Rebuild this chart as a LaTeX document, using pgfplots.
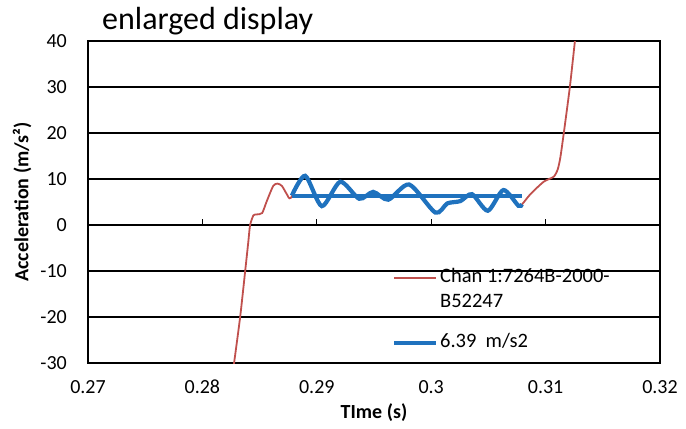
\documentclass[border=0pt]{standalone}
\usepackage{pgfplots}
\pgfplotsset{compat=1.18}
\usepackage{fontspec}
\setmainfont{Carlito}
\definecolor{chanred}{RGB}{192,80,77}
\definecolor{avgblue}{RGB}{31,114,190}
\begin{document}
\begin{tikzpicture}
\path[use as bounding box] (-88bp,-66bp) rectangle (598bp,363bp);
\begin{axis}[
  name=ax,
  at={(0,0)}, anchor=south west,
  scale only axis, width=572bp, height=322bp,
  xmin=0.27, xmax=0.32, ymin=-30, ymax=40,
  xtick={0.27,0.28,0.29,0.30,0.31,0.32},
  xticklabels={0.27,0.28,0.29,0.3,0.31,0.32},
  ytick={-30,-20,-10,0,10,20,30,40},
  yticklabels={-30,-20,-10,0,10,20,30,40},
  major tick length=0pt,
  ymajorgrids, grid style={black, line width=1.4bp},
  axis line style={black, line width=2bp},
  every tick label/.append style={font=\fontsize{20bp}{24bp}\selectfont},
  xticklabel style={anchor=north, inner sep=0pt, yshift=-17bp},
  yticklabel style={anchor=east, inner sep=0pt, xshift=-21bp},
  xlabel={\bfseries TIme (s)},
  ylabel={\bfseries Acceleration (m/s²)},
  label style={font=\fontsize{20bp}{24bp}\selectfont},
  xlabel style={at={(axis description cs:0.5,-0.1553)}, anchor=center},
  ylabel style={at={(axis description cs:-0.1154,0.5)}, anchor=center},
  clip=true,
  legend image code/.code={\draw[#1] (0bp,0bp) -- (42bp,0bp);},
  legend cell align=left,
  legend style={at={(axis cs:0.29655,-8.7)}, anchor=north west, draw=none, fill=none,
    inner sep=0pt, font=\fontsize{20.5bp}{25bp}\selectfont,
    nodes={inner sep=0pt}, row sep=0pt, column sep=2bp},
]
\draw[black, line width=2.5bp] (axis cs:0.27,0) -- (axis cs:0.32,0);
\pgfplotsinvokeforeach{0.28,0.29,0.30,0.31}{
  \draw[black, line width=1.2bp] (axis cs:#1,0) -- (axis cs:#1,1.3);
}
\addplot[chanred, line width=1.8bp, smooth, tension=0.4] coordinates {
(0.28266,-32) (0.28277,-30) (0.28330,-20) (0.28374,-10) (0.28402,-3.5) (0.28417,0)
(0.28446,2.1) (0.28475,2.3) (0.28522,2.6) (0.28563,5.2) (0.28619,8.5) (0.28656,9.0)
(0.28695,8.5) (0.28738,6.7) (0.28773,5.9)
(0.28899,10.5) (0.29044,4.2) (0.29205,9.3) (0.29371,5.8) (0.29493,7.1) (0.29625,5.6)
(0.29808,8.7) (0.30036,2.8) (0.30141,4.7) (0.30255,5.2) (0.30357,6.6) (0.30495,3.2)
(0.30631,7.5) (0.30762,4.3)
(0.30794,4.5) (0.30867,6.7) (0.30983,9.4) (0.31071,10.5) (0.31106,12.1)
(0.31129,14.7) (0.31158,19.8) (0.31211,29.8) (0.31255,39.7) (0.31265,42)
};
\addlegendentry[text height=17bp, text depth=8bp]{Chan 1:7264B-2000-}
\addlegendimage{empty legend}
\addlegendentry[text height=17bp, text depth=23bp]{B52247}
\addplot[avgblue, line width=4.2bp] coordinates {(0.28782,6.39) (0.30794,6.39)};
\addlegendentry[text height=17bp, text depth=8bp]{6.39\ \ m/s2}
\addplot[avgblue, line width=4.2bp, smooth, tension=0.45, forget plot] coordinates {
(0.28782,6.39) (0.28899,10.7) (0.29044,4.1) (0.29205,9.4) (0.29371,5.7) (0.29493,7.2)
(0.29625,5.5) (0.29808,8.8) (0.30036,2.7) (0.30141,4.7) (0.30255,5.2) (0.30357,6.7)
(0.30495,3.1) (0.30631,7.6) (0.30762,4.2) (0.30794,4.5)
};
\end{axis}
\node[anchor=base west, inner sep=0pt, font=\fontsize{32bp}{38bp}\selectfont]
  at ([xshift=14bp,yshift=12bp]ax.north west) {enlarged display};
\end{tikzpicture}
\end{document}
